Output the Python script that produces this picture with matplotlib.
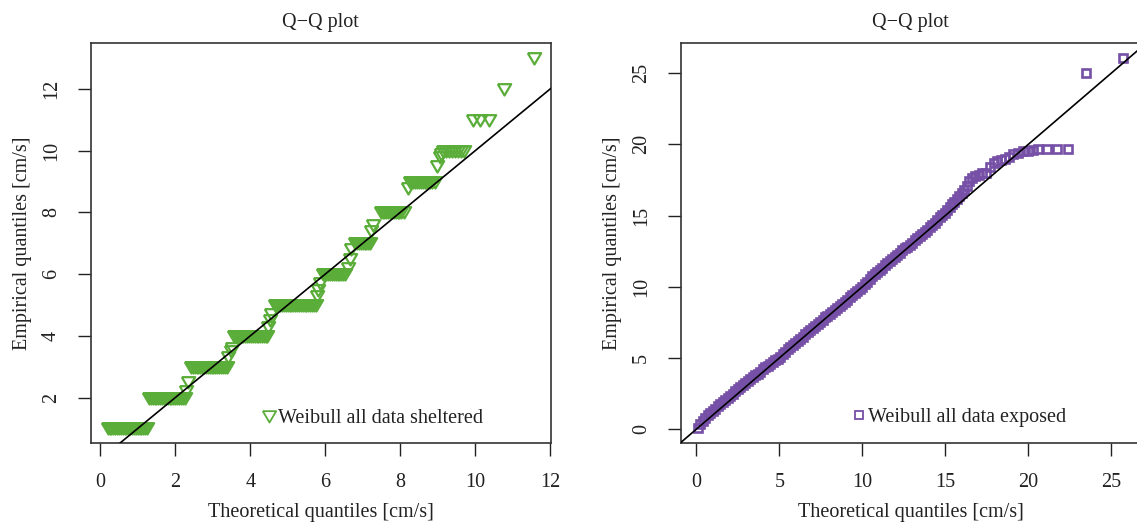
import matplotlib
matplotlib.use("Agg")
import matplotlib.pyplot as plt
import numpy as np
from matplotlib.lines import Line2D

plt.rcParams['font.family'] = ['Liberation Serif', 'DejaVu Serif']
plt.rcParams['font.size'] = 14.5

# ---------------- data: sheltered (left) ----------------
# (theoretical quantile, empirical quantile)
sh_lvl1_x = [0.20, 0.25, 0.30, 0.35, 0.40, 0.45, 0.50, 0.55, 0.60, 0.65, 0.70, 0.75, 0.80, 0.85, 0.90, 0.95,
             1.00, 1.05, 1.10, 1.15, 1.20, 1.25]
sh_lvl2_x = [1.30, 1.35, 1.40, 1.45, 1.50, 1.55, 1.60, 1.65, 1.70, 1.75, 1.80, 1.85, 1.90, 1.95, 2.00, 2.05,
             2.10, 2.15, 2.20, 2.26]
sh_lvl3_x = [2.42, 2.47, 2.52, 2.57, 2.62, 2.67, 2.72, 2.77, 2.82, 2.87, 2.92, 2.97, 3.02, 3.07, 3.12, 3.17,
             3.22, 3.27, 3.32, 3.38]
sh_lvl4_x = [3.57, 3.62, 3.67, 3.72, 3.77, 3.82, 3.87, 3.92, 3.97, 4.02, 4.07, 4.12, 4.17, 4.22, 4.27, 4.32,
             4.37, 4.41, 4.45]
sh_lvl5_x = [4.65, 4.70, 4.75, 4.80, 4.85, 4.90, 4.95, 5.00, 5.05, 5.10, 5.15, 5.20, 5.25, 5.30, 5.35, 5.40,
             5.45, 5.50, 5.55, 5.60, 5.65, 5.70, 5.75]
sh_lvl6_x = [5.93, 5.98, 6.03, 6.08, 6.13, 6.18, 6.23, 6.28, 6.33, 6.38, 6.43, 6.48, 6.53]
sh_lvl7_x = [6.80, 6.85, 6.90, 6.95, 7.00, 7.05, 7.10, 7.15, 7.20]
sh_lvl8_x = [7.48, 7.53, 7.58, 7.63, 7.68, 7.73, 7.78, 7.83, 7.88, 7.93, 7.98, 8.03, 8.09]
sh_lvl9_x = [8.25, 8.30, 8.35, 8.40, 8.45, 8.50, 8.55, 8.60, 8.65, 8.70, 8.75, 8.80, 8.85, 8.92]
sh_lvl10_x = [9.13, 9.21, 9.29, 9.37, 9.45, 9.53, 9.61, 9.69]
sh_lvl11_x = [9.93, 10.14, 10.38]
sh_lvl12_x = [10.78]
sh_lvl13_x = [11.56]
sh_levels = [1, 2, 3, 4, 5, 6, 7, 8, 9, 10, 11, 12, 13]
# in-between values (half steps)
sh_mid_x = [2.30, 2.33, 3.42, 3.48, 3.52, 4.48, 4.52, 4.56, 5.78, 5.82, 5.86,
            6.62, 6.66, 6.70, 7.22, 7.28, 8.22, 8.98, 9.05, 9.10]
sh_mid_y = [2.2, 2.5, 3.3, 3.5, 3.6, 4.3, 4.5, 4.7, 5.3, 5.5, 5.7,
            6.2, 6.5, 6.8, 7.4, 7.6, 8.8, 9.5, 9.8, 9.9]

# ---------------- data: exposed (right) ----------------
ex_x = [0.10, 0.25, 0.40, 0.55, 0.70, 0.85, 1.00, 1.15, 1.30, 1.45, 1.60, 1.75, 1.90, 2.05, 2.20,
        2.35, 2.50, 2.65, 2.80, 2.95, 3.10, 3.25, 3.40, 3.55, 3.70, 3.85, 4.00, 4.15, 4.30, 4.45,
        4.60, 4.75, 4.90, 5.05, 5.20, 5.35, 5.50, 5.65, 5.80, 5.95, 6.10, 6.25, 6.40, 6.55, 6.70,
        6.85, 7.00, 7.15, 7.30, 7.45, 7.60, 7.75, 7.90, 8.05, 8.20, 8.35, 8.50, 8.65, 8.80, 8.95,
        9.10, 9.25, 9.40, 9.55, 9.70, 9.85, 10.00, 10.15, 10.30, 10.45, 10.60, 10.75, 10.90, 11.05,
        11.20, 11.35, 11.50, 11.65, 11.80, 11.95, 12.10, 12.25, 12.40, 12.55, 12.70, 12.85, 13.00,
        13.15, 13.30, 13.45, 13.60, 13.75, 13.90, 14.05, 14.20, 14.35, 14.50, 14.65, 14.80, 14.95,
        15.10, 15.25, 15.40, 15.55, 15.70, 15.85, 16.00, 16.15, 16.30, 16.45, 16.60, 16.80, 17.00,
        17.20, 17.45, 17.70, 17.90, 18.10, 18.35, 18.60, 18.85, 19.10, 19.35, 19.65, 19.95, 20.25,
        20.60, 21.10, 21.70, 22.40, 23.45, 25.70]
ex_y = [0.05, 0.35, 0.60, 0.80, 1.00, 1.15, 1.30, 1.45, 1.60, 1.75, 1.90, 2.05, 2.20, 2.35, 2.50,
        2.65, 2.80, 2.95, 3.10, 3.25, 3.40, 3.55, 3.65, 3.80, 3.90, 4.05, 4.20, 4.35, 4.45, 4.60,
        4.70, 4.85, 4.95, 5.10, 5.25, 5.40, 5.60, 5.75, 5.90, 6.05, 6.20, 6.35, 6.50, 6.65, 6.80,
        6.95, 7.10, 7.25, 7.40, 7.55, 7.70, 7.85, 7.95, 8.10, 8.25, 8.40, 8.50, 8.65, 8.80, 8.95,
        9.10, 9.25, 9.40, 9.55, 9.70, 9.85, 10.00, 10.20, 10.35, 10.55, 10.75, 10.90, 11.05, 11.20,
        11.35, 11.50, 11.65, 11.80, 11.95, 12.10, 12.25, 12.40, 12.55, 12.70, 12.80, 12.95, 13.10,
        13.25, 13.40, 13.55, 13.70, 13.85, 14.00, 14.20, 14.30, 14.50, 14.70, 14.90, 15.05, 15.20,
        15.40, 15.60, 15.80, 15.95, 16.15, 16.35, 16.55, 16.80, 17.10, 17.40, 17.60, 17.75, 17.85,
        17.95, 18.00, 18.40, 18.70, 18.85, 18.90, 19.00, 19.10, 19.30, 19.40, 19.50, 19.55, 19.60,
        19.65, 19.70, 19.70, 19.70, 25.00, 26.05]

titles = ["Q\u2212Q plot", "Q\u2212Q plot"]
xlabel = "Theoretical quantiles [cm/s]"
ylabel = "Empirical quantiles [cm/s]"
legend_labels = ["Weibull all data sheltered", "Weibull all data exposed"]
left_xticks = [0, 2, 4, 6, 8, 10, 12]
left_yticks = [2, 4, 6, 8, 10, 12]
right_xticks = [0, 5, 10, 15, 20, 25]
right_yticks = [0, 5, 10, 15, 20, 25]

GREEN = "#5aad39"
PURPLE = "#764fa6"

# assemble sheltered series
sh_lists = [sh_lvl1_x, sh_lvl2_x, sh_lvl3_x, sh_lvl4_x, sh_lvl5_x, sh_lvl6_x, sh_lvl7_x,
            sh_lvl8_x, sh_lvl9_x, sh_lvl10_x, sh_lvl11_x, sh_lvl12_x, sh_lvl13_x]
sh_x = []
sh_y = []
for lv, xs in zip(sh_levels, sh_lists):
    sh_x += xs
    sh_y += [lv] * len(xs)
sh_x += sh_mid_x
sh_y += sh_mid_y
sh_x = np.array(sh_x)
sh_y = np.array(sh_y)
ex_x = np.array(ex_x)
ex_y = np.array(ex_y)


def rlim(v):
    lo, hi = float(np.min(v)), float(np.max(v))
    d = 0.04 * (hi - lo)
    return lo - d, hi + d


W, H = 1137, 527
fig = plt.figure(figsize=(W / 100, H / 100), dpi=100)
ax1 = fig.add_axes([90.7 / W, (H - 443.3) / H, 460 / W, 400 / H])
ax2 = fig.add_axes([681 / W, (H - 443.3) / H, 459 / W, 400 / H])

tri = [(-1, 0.8), (1, 0.8), (0, -0.9), (-1, 0.8)]
TRI_MS, TRI_MEW = 9.6, 1.6
SQ_MS, SQ_MEW = 6.3, 1.9

ax1.plot(sh_x, sh_y, linestyle='none', marker=tri, ms=TRI_MS, mfc='none', mec=GREEN, mew=TRI_MEW)
ax2.plot(ex_x, ex_y, linestyle='none', marker='s', ms=SQ_MS, mfc='none', mec=PURPLE, mew=SQ_MEW)

for ax, x, y, xt, yt, title, lab in [
        (ax1, sh_x, sh_y, left_xticks, left_yticks, titles[0], legend_labels[0]),
        (ax2, ex_x, ex_y, right_xticks, right_yticks, titles[1], legend_labels[1])]:
    ax.set_xlim(*rlim(x))
    ax.set_ylim(*rlim(y))
    ax.axline((0, 0), slope=1, color='black', lw=1.2, zorder=3)
    ax.set_xticks(xt)
    ax.set_yticks(yt)
    ax.tick_params(direction='out', length=9.5, width=1.0, pad=12, labelsize=14.5, colors='#222222')
    for lbl in ax.get_yticklabels():
        lbl.set_rotation(90)
        lbl.set_va('center')
    for s in ax.spines.values():
        s.set_linewidth(1.2)
        s.set_color('#333333')
    ax.set_title(title, fontsize=14.5, pad=12, color='#222222')
    ax.set_xlabel(xlabel, fontsize=14.5, color='#222222')
    ax.set_ylabel(ylabel, fontsize=14.5, color='#222222')
    ax.xaxis.set_label_coords(0.5, (443.3 - 512) / 400)
    ax.xaxis.label.set_va('center')

ax1.yaxis.set_label_coords((22 - 90.7) / 460, 0.5)
ax2.yaxis.set_label_coords((612 - 681) / 459, 0.5)
ax1.yaxis.label.set_va('center')
ax2.yaxis.label.set_va('center')

h1 = Line2D([], [], linestyle='none', marker=tri, ms=TRI_MS, mfc='none', mec=GREEN, mew=1.3)
h2 = Line2D([], [], linestyle='none', marker='s', ms=SQ_MS, mfc='none', mec=PURPLE, mew=1.3)
ax1.legend([h1], [legend_labels[0]], loc='center left', bbox_to_anchor=(0.373, 0.061),
           frameon=False, handlelength=0.65, handletextpad=0.12, borderpad=0, borderaxespad=0,
           fontsize=14.5, labelcolor='#222222')
ax2.legend([h2], [legend_labels[1]], loc='center left', bbox_to_anchor=(0.373, 0.065),
           frameon=False, handlelength=0.65, handletextpad=0.12, borderpad=0, borderaxespad=0,
           fontsize=14.5, labelcolor='#222222')

fig.savefig("out.png", dpi=100)
